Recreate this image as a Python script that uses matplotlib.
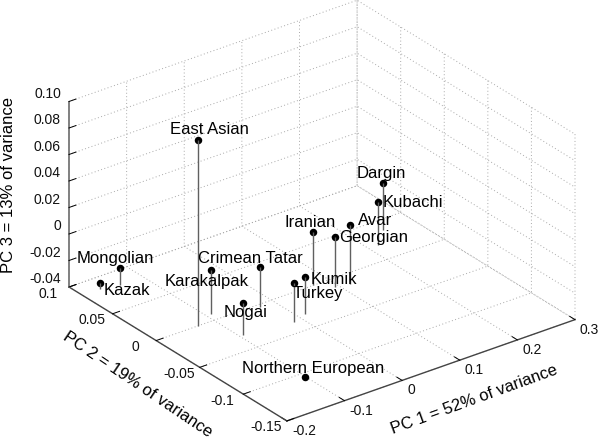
import matplotlib
matplotlib.use('Agg')
import matplotlib.pyplot as plt
from mpl_toolkits.mplot3d import proj3d

plt.rcParams['font.family'] = ['Liberation Sans', 'DejaVu Sans']
plt.rcParams['grid.color'] = '#a8a8a8'
plt.rcParams['grid.linestyle'] = (0, (1, 2.5))
plt.rcParams['grid.linewidth'] = 0.7

# Populations
names = ['East Asian', 'Mongolian', 'Kazak', 'Crimean Tatar', 'Karakalpak', 'Nogai',
         'Turkey', 'Kumik', 'Iranian', 'Georgian', 'Avar', 'Kubachi', 'Dargin',
         'Northern European']
pc1 = [-0.127, -0.140, -0.169, -0.0245, -0.0917, -0.0942,
       -0.0154, 0.0119, 0.0722, 0.0937, 0.1157, 0.2164, 0.2485, -0.1001]
pc2 = [-0.0002, 0.081, 0.085, -0.0028, 0.009, -0.0292,
       -0.036, -0.0307, 0.0001, -0.0108, -0.0135, 0.0209, 0.0367, -0.105]
pc3 = [0.1004, -0.0268, -0.036, -0.0102, -0.0067, -0.0163,
       -0.0099, -0.012, 0.0005, -0.0022, 0.0047, -0.0077, -0.0042, -0.04]

x_ticks = [-0.2, -0.1, 0, 0.1, 0.2, 0.3]
x_labels = ['-0.2', '-0.1', '0', '0.1', '0.2', '0.3']
y_ticks = [-0.15, -0.1, -0.05, 0, 0.05, 0.1]
y_labels = ['-0.15', '-0.1', '-0.05', '0', '0.05', '0.1']
z_ticks = [-0.04, -0.02, 0, 0.02, 0.04, 0.06, 0.08, 0.10]
z_labels = ['-0.04', '-0.02', '0', '0.02', '0.04', '0.06', '0.08', '0.10']

# Text offsets from each marker, in pixels
label_dx = [-28.5, -44, 3.3, -61.7, -46, -19, -1, 5.7, -28, 4.3, 8.3, 5, -25.6, -63.7]
label_dy = [5.5, 4.7, -11.6, 3.6, -16, -13.3, -15.7, -7, 5, -5, 0, -5, 5, 4]


# Move the square axes so the floor corners land where they do in the reference
def place_axes(fig, ax, left_px, right_px):
    fig_w, fig_h = fig.get_size_inches() * fig.dpi
    ax.apply_aspect()
    proj = ax.get_proj()
    lx, ly, _ = proj3d.proj_transform(x_ticks[0], y_ticks[-1], z_ticks[0], proj)
    rx, ry, _ = proj3d.proj_transform(x_ticks[-1], y_ticks[0], z_ticks[0], proj)
    view = ax.viewLim
    side = (right_px[0] - left_px[0]) / (rx - lx) * view.width
    left = left_px[0] - (lx - view.x0) / view.width * side
    bottom = (fig_h - left_px[1]) - (ly - view.y0) / view.height * side
    ax.set_position([left / fig_w, bottom / fig_h, side / fig_w, side / fig_h])


# Text at a projected 3D point, moved by a fixed number of pixels on screen
def offset_text(ax, x, y, z, s, dx, dy, **kwargs):
    px, py, _ = proj3d.proj_transform(x, y, z, ax.get_proj())
    ax.annotate(s, (px, py), xytext=(dx, dy), textcoords='offset pixels',
                annotation_clip=False, **kwargs)


def main():
    fig = plt.figure(figsize=(6, 4.44), dpi=100)
    ax = fig.add_axes([0, 0, 1, 1], projection='3d', proj_type='ortho')
    ax.view_init(elev=27.7, azim=-127.1)
    ax.set_box_aspect((1, 1, 0.58))
    ax.patch.set_alpha(0)

    ax.set_xlim(x_ticks[0], x_ticks[-1], view_margin=0)
    ax.set_ylim(y_ticks[0], y_ticks[-1], view_margin=0)
    ax.set_zlim(z_ticks[0], z_ticks[-1], view_margin=0)
    ax.set_xticks(x_ticks)
    ax.set_yticks(y_ticks)
    ax.set_zticks(z_ticks)

    for axis, colour, width in [(ax.xaxis, '#444444', 1.0), (ax.yaxis, '#444444', 1.0),
                                (ax.zaxis, '#808080', 1.4)]:
        axis.set_pane_color((1, 1, 1, 0))
        axis.pane.set_edgecolor('none')
        axis.line.set_color(colour)
        axis.line.set_linewidth(width)
        axis.set_tick_params(label1On=False)
        axis._axinfo['tick']['inward_factor'] = 0
        axis._axinfo['tick']['outward_factor'] = 0.3
        axis._axinfo['tick']['linewidth'] = {True: 0.7, False: 0.5}
        axis._axinfo['tick']['color'] = '#444444'

    lines, stemlines, baseline = ax.stem(pc1, pc2, pc3, bottom=z_ticks[0], linefmt='-',
                                         markerfmt='o', basefmt=' ')
    plt.setp(stemlines, color='#606060', linewidth=1.0)
    plt.setp(lines, color='black', markersize=5.4, markeredgewidth=0)

    place_axes(fig, ax, (69, 287), (575, 320))

    # Tick labels
    for tick, label in zip(x_ticks, x_labels):
        offset_text(ax, tick, y_ticks[0], z_ticks[0], label, 5, -10,
                    fontsize=10, ha='left', va='center', color='#111111')
    for tick, label in zip(y_ticks, y_labels):
        offset_text(ax, x_ticks[0], tick, z_ticks[0], label, -21, -6.5,
                    fontsize=10, ha='center', va='center', color='#111111')
    for tick, label in zip(z_ticks, z_labels):
        offset_text(ax, x_ticks[0], y_ticks[-1], tick, label, -8, 8,
                    fontsize=10, ha='right', va='center', color='#111111')

    # Axis titles
    fig_w, fig_h = fig.get_size_inches() * fig.dpi
    ax.text2D(474 / fig_w, 1 - 400 / fig_h, 'PC 1 = 52% of variance', fontsize=12, rotation=20,
              ha='center', va='center', rotation_mode='anchor', transform=fig.transFigure)
    ax.text2D(137.5 / fig_w, 1 - 384.5 / fig_h, 'PC 2 = 19% of variance', fontsize=12, rotation=-34,
              ha='center', va='center', rotation_mode='anchor', transform=fig.transFigure)
    ax.text2D(9 / fig_w, 1 - 184.5 / fig_h, 'PC 3 = 13% of variance', fontsize=12, rotation=90,
              ha='center', va='center', rotation_mode='anchor', transform=fig.transFigure)

    for name, x, y, z, dx, dy in zip(names, pc1, pc2, pc3, label_dx, label_dy):
        offset_text(ax, x, y, z, name, dx, dy, fontsize=12, ha='left', va='baseline',
                    color='black', zorder=10)

    fig.savefig('out.png', dpi=100)


if __name__ == "__main__":
    main()
